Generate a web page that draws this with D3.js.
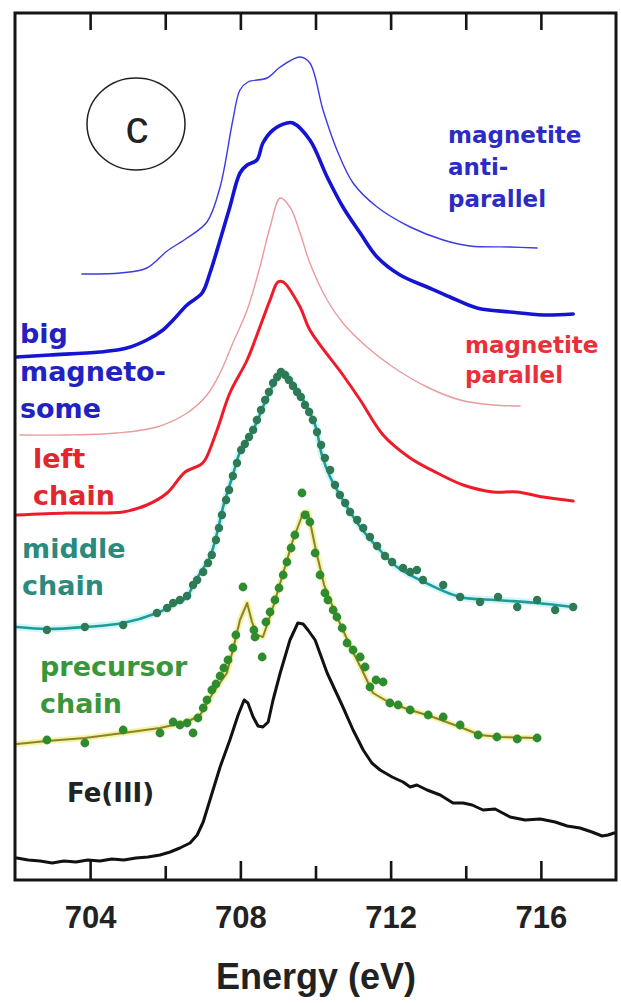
<!DOCTYPE html>
<html><head><meta charset="utf-8">
<script src="https://cdn.jsdelivr.net/npm/d3@7"></script>
<style>body{margin:0;background:#fff}svg{display:block}</style>
</head><body>
<svg id="c" width="621" height="1003"></svg>
<script>
// ---- data (energy in eV, intensity in arbitrary units, curves stacked with offsets) ----
const majorTicks = [704, 708, 712, 716];
const minorTicks = [706, 710, 714];
const xTitle = "Energy (eV)";

const antiE = [703.78,704.80,705.51,706.05,706.58,707.11,707.46,707.80,707.99,708.20,708.71,709.06,709.59,709.85,710.20,710.57,711.00,711.64,712.52,713.40,714.11,715.18,715.90];
const antiI = [606,607,612,629,642,658,693,760,790,798,802,813,823,817,770,730,697,673,653,640,634,633,632];

const bigE = [702.05,702.93,704.26,704.98,705.51,705.94,706.21,706.58,706.98,707.19,707.46,707.72,707.99,708.18,708.44,708.60,708.87,709.24,709.40,709.85,710.31,710.73,711.19,711.64,712.25,712.97,713.58,714.30,715.18,716.06,716.86];
const bigI = [523,525,528,532,540,550,560,575,587,607,640,673,707,715,720,737,750,757,757,740,703,673,647,623,605,593,583,572,568,565,566];

const parE = [702.13,703.38,704.72,705.78,706.58,707.11,707.46,707.80,708.18,708.52,708.79,709.06,709.32,709.59,709.85,710.31,710.73,711.37,712.06,712.97,713.85,714.73,715.45];
const parI = [445,445,447,453,467,485,507,537,570,613,653,682,673,647,617,580,557,533,513,493,480,475,474];

const leftE = [702.05,703.38,704.88,705.51,706.05,706.53,706.93,707.06,707.38,707.72,708.18,708.52,708.79,709.00,709.14,709.59,709.85,710.73,711.19,711.80,712.52,713.24,713.93,714.73,715.37,716.06,716.86];
const leftI = [365,367,368,375,387,408,415,420,450,487,520,553,580,598,598,573,550,505,480,445,422,407,395,388,388,383,379];

const midE = [702.05,702.85,703.86,704.88,705.78,706.21,706.58,706.74,706.93,707.19,707.38,707.54,707.80,707.99,708.34,708.71,709.11,709.59,709.99,710.17,710.39,710.73,711.19,711.64,712.17,712.78,713.85,714.83,715.90,716.86];
const midI = [253,251,253,257,267,275,283,295,307,323,347,373,405,428,450,482,508,485,455,425,403,380,353,333,313,300,283,280,277,273];
const midDotE = [702.85,703.86,704.88,705.78,706.05,706.21,706.39,706.58,706.74,706.85,707.01,707.14,707.24,707.35,707.43,707.51,707.62,707.70,707.80,707.91,708.02,708.12,708.23,708.34,708.44,708.55,708.66,708.76,708.87,708.98,709.08,709.19,709.29,709.40,709.51,709.61,709.72,709.83,709.93,710.04,710.15,710.25,710.39,710.52,710.65,710.79,710.92,711.11,711.27,711.45,711.64,711.85,712.04,712.33,712.52,712.70,712.86,713.40,713.85,714.38,714.86,715.37,715.90,716.38,716.86];
const midDotI = [250,253,255,267,272,277,280,284,295,300,308,317,325,340,352,365,380,390,404,417,430,436,443,450,460,470,480,488,497,503,508,505,500,494,488,483,475,468,460,448,435,422,410,395,385,377,368,360,352,343,334,324,318,312,308,310,300,295,283,278,283,273,280,270,273];

const preE = [702.05,702.85,703.86,704.88,705.86,706.58,706.93,707.27,707.64,707.80,707.99,708.18,708.31,708.44,708.60,708.87,709.14,709.40,709.67,709.80,710.01,710.23,710.47,710.73,710.97,711.24,711.53,711.99,712.52,713.05,713.85,714.38,714.91,715.90];
const preI = [136,139,142,147,152,158,165,187,207,230,260,277,258,245,243,273,307,340,367,368,330,295,272,250,230,210,187,177,170,164,153,145,143,142];
const preDotE = [702.85,703.86,704.88,705.86,706.21,706.39,706.58,706.74,706.87,707.01,707.11,707.24,707.35,707.46,707.56,707.67,707.80,707.88,708.07,708.36,708.39,708.58,708.68,708.79,708.92,709.03,709.14,709.24,709.35,709.45,709.64,709.72,709.85,709.99,710.12,710.25,710.33,710.47,710.57,710.71,710.84,711.00,711.19,711.32,711.45,711.61,711.80,711.98,712.20,712.52,713.00,713.40,713.85,714.33,714.83,715.37,715.90];
const preDotI = [140,137,150,147,158,155,157,147,162,172,180,190,196,204,212,220,232,245,293,250,243,223,258,268,280,292,305,318,332,345,387,365,358,327,305,287,280,270,263,252,237,230,223,213,193,200,198,177,175,170,165,163,155,145,143,141,142];

const feE = [702.05,702.35,702.67,702.99,703.30,703.62,703.94,704.26,704.58,704.90,705.22,705.54,705.86,706.13,706.39,706.66,706.85,707.01,707.19,707.46,707.72,707.94,708.10,708.20,708.34,708.47,708.60,708.74,708.87,709.06,709.32,709.53,709.67,709.80,709.99,710.31,710.73,711.00,711.27,711.50,711.72,712.04,712.33,712.52,712.70,712.97,713.32,713.66,713.93,714.17,714.46,714.78,715.18,715.58,715.98,716.38,716.70,717.04,717.36,717.63,717.79,717.95];
const feI = [22,20,19,17,19,18,20,19,21,20,22,23,25,28,32,37,45,58,80,113,140,165,180,177,163,154,153,158,180,207,240,257,256,250,240,207,173,150,130,117,110,103,98,93,95,90,85,77,77,75,70,71,63,60,61,58,54,52,48,44,45,47];

// ---- drawing ----
const svg = d3.select("#c");
const L = 15, R = 616, T = 13, B = 880;
const x = d3.scaleLinear().domain([702, 718]).range([L, R]);
const y = d3.scaleLinear().domain([0, 867]).range([B, T]);
const lineLin = d3.line().x(d => x(d[0])).y(d => y(d[1]));
const lineSm = d3.line().x(d => x(d[0])).y(d => y(d[1])).curve(d3.curveCatmullRom.alpha(0.5));
const zip = (a, b) => a.map((v, i) => [v, b[i]]);

function path(E, I, color, w, op, smooth) {
  const p = svg.append("path").datum(zip(E, I)).attr("d", smooth ? lineSm : lineLin)
    .attr("fill", "none").attr("stroke", color).attr("stroke-width", w)
    .attr("stroke-linejoin", "round").attr("stroke-linecap", "round");
  if (op) p.attr("opacity", op);
  return p;
}
function dots(E, I, color, r) {
  svg.append("g").selectAll("circle").data(zip(E, I)).join("circle")
    .attr("cx", d => x(d[0])).attr("cy", d => y(d[1])).attr("r", r).attr("fill", color);
}

// curves
path(antiE, antiI, "#3a3ae6", 1.4, null, true);
path(bigE, bigI, "#1414d2", 3.6, null, true);
path(parE, parI, "#ec9a9a", 1.4, null, true);
path(leftE, leftI, "#ee1c2a", 3, null, true);
path(midE, midI, "#a8eef0", 7, 0.5, true);
path(midE, midI, "#1f9c9a", 2.6, null, true);
dots(midDotE, midDotI, "#2e7a55", 4.2);
path(preE, preI, "#e8ec5a", 6, 0.55);
path(preE, preI, "#8f8030", 2);
dots(preDotE, preDotI, "#2f8c2c", 4.4);
path(feE, feI, "#111", 3);

// frame and ticks
svg.append("rect").attr("x", L).attr("y", T).attr("width", R - L).attr("height", B - T)
  .attr("fill", "none").attr("stroke", "#151515").attr("stroke-width", 3);

const axB = svg.append("g").attr("transform", `translate(0,${B})`)
  .call(d3.axisBottom(x).tickValues(majorTicks).tickSize(-19).tickPadding(26).tickFormat(d3.format("d")));
const axBm = svg.append("g").attr("transform", `translate(0,${B})`)
  .call(d3.axisBottom(x).tickValues(minorTicks).tickSize(-14).tickFormat(""));
const axT = svg.append("g").attr("transform", `translate(0,${T})`)
  .call(d3.axisTop(x).tickValues(majorTicks.concat(minorTicks)).tickSize(-17).tickFormat(""));
[axB, axBm, axT].forEach(g => {
  g.select(".domain").remove();
  g.selectAll(".tick line").attr("stroke", "#151515").attr("stroke-width", 2.6);
});
axB.selectAll(".tick text").attr("font-family", "Liberation Sans, Arial, sans-serif")
  .attr("font-size", 31).attr("font-weight", "bold").attr("fill", "#222");

svg.append("text").attr("x", 316).attr("y", 989).attr("text-anchor", "middle")
  .attr("font-family", "Liberation Sans, Arial, sans-serif").attr("font-size", 36)
  .attr("font-weight", "bold").attr("fill", "#222").text(xTitle);

// panel label
svg.append("ellipse").attr("cx", 136).attr("cy", 124).attr("rx", 49).attr("ry", 46)
  .attr("fill", "none").attr("stroke", "#222").attr("stroke-width", 1.5);
svg.append("text").attr("x", 137).attr("y", 143).attr("text-anchor", "middle")
  .attr("font-family", "Liberation Sans, Arial, sans-serif").attr("font-size", 46)
  .attr("fill", "#222").text("c");

// series labels
const F = "DejaVu Sans, Verdana, sans-serif";
function label(lines, xPos, y0, dy, size, color) {
  lines.forEach((t, i) => svg.append("text").attr("x", xPos).attr("y", y0 + i * dy)
    .attr("font-family", F).attr("font-weight", "bold").attr("font-size", size)
    .attr("fill", color).text(t));
}
label(["magnetite", "anti-", "parallel"], 448, 143, 32, 23, "#2c2cc4");
label(["magnetite", "parallel"], 465, 353, 30, 23, "#e83038");
label(["big", "magneto-", "some"], 20, 343, 37.5, 27, "#2222c2");
label(["left", "chain"], 33, 468, 37, 27, "#e3262e");
label(["middle", "chain"], 22, 558, 37, 27, "#2a8a7e");
label(["precursor", "chain"], 40, 676, 37, 27, "#3a963a");
label(["Fe(III)"], 67, 802, 0, 26, "#222");
</script>
</body></html>
